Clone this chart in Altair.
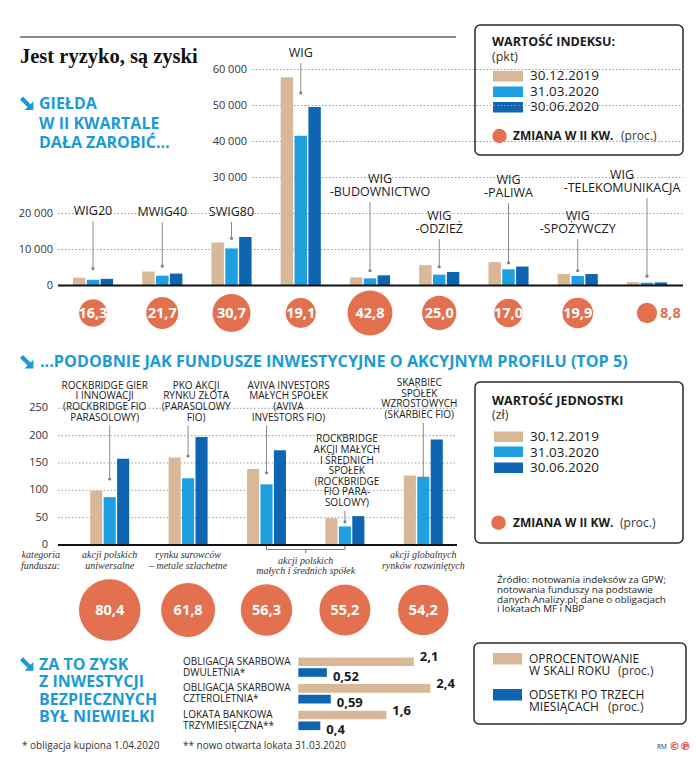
import altair as alt
import pandas as pd

# ------------------------------------------------------------------ data
dates = ["30.12.2019", "31.03.2020", "30.06.2020"]

idx_names = ["WIG20", "MWIG40", "SWIG80", "WIG", "WIG-BUDOWNICTWO", "WIG-ODZIEŻ",
             "WIG-PALIWA", "WIG-SPOŻYWCZY", "WIG-TELEKOMUNIKACJA"]
idx_labels = ["WIG20", "MWIG40", "SWIG80", "WIG", "WIG\n-BUDOWNICTWO", "WIG\n-ODZIEŻ",
              "WIG\n-PALIWA", "WIG\n-SPOŻYWCZY", "WIG\n-TELEKOMUNIKACJA"]
idx_2019 = [2150, 3880, 11950, 57833, 2250, 5650, 6500, 3200, 950]
idx_q1 = [1595, 2720, 10300, 41624, 1980, 3000, 4500, 2650, 780]
idx_q2 = [1855, 3310, 13470, 49593, 2830, 3750, 5265, 3180, 850]
idx_change = [16.3, 21.7, 30.7, 19.1, 42.8, 25.0, 17.0, 19.9, 8.8]
idx_ticks = [0, 10000, 20000, 30000, 40000, 50000, 60000]
# annotation anchors (index points): bottom of label text / pointer dot
idx_label_level = [18700, 18400, 18500, 62600, 24000, 13700, 23700, 13700, 25100]
idx_pointer_level = [4700, 5400, 13100, 53500, 4100, 5200, 6300, 4100, 2600]
idx_label_shift = [0, 0, 0, 0, 10, 0, 0, 0, -25]

fund_names = ["Rockbridge Gier i Innowacji", "PKO Akcji Rynku Złota",
              "Aviva Investors Małych Spółek", "Rockbridge Akcji Małych i Średnich Spółek",
              "Skarbiec Spółek Wzrostowych"]
fund_labels = ["ROCKBRIDGE GIER\nI INNOWACJI\n(ROCKBRIDGE FIO\nPARASOLOWY)",
               "PKO AKCJI\nRYNKU ZŁOTA\n(PARASOLOWY\nFIO)",
               "AVIVA INVESTORS\nMAŁYCH SPÓŁEK\n(AVIVA\nINVESTORS FIO)",
               "ROCKBRIDGE\nAKCJI MAŁYCH\nI ŚREDNICH\nSPÓŁEK\n(ROCKBRIDGE\nFIO PARA-\nSOLOWY)",
               "SKARBIEC\nSPÓŁEK\nWZROSTOWYCH\n(SKARBIEC FIO)"]
fund_2019 = [99.5, 160, 139, 49, 127]
fund_q1 = [87.5, 122, 111, 34, 125]
fund_q2 = [157.8, 197.4, 173.5, 52.8, 192.8]
fund_change = [80.4, 61.8, 56.3, 55.2, 54.2]
fund_category = ["akcji polskich\nuniwersalne", "rynku surowców\n– metale szlachetne",
                 "akcji polskich\nmałych i średnich spółek", "akcji polskich\nmałych i średnich spółek",
                 "akcji globalnych\nrynków rozwiniętych"]
fund_ticks = [0, 50, 100, 150, 200, 250]
fund_label_level = [224, 224, 224, 67.7, 228.6]
fund_pointer_level = [120.7, 162.8, 132, 42.6, 122.6]
fund_label_shift = [-5, 8, 22, 2, -4]

bond_names = ["OBLIGACJA SKARBOWA\nDWULETNIA*", "OBLIGACJA SKARBOWA\nCZTEROLETNIA*",
              "LOKATA BANKOWA\nTRZYMIESIĘCZNA**"]
bond_series = ["OPROCENTOWANIE W SKALI ROKU", "ODSETKI PO TRZECH MIESIĄCACH"]
bond_annual = [2.1, 2.4, 1.6]
bond_3m = [0.52, 0.59, 0.4]

# ------------------------------------------------------------------ style
SANS = "Open Sans"
SERIF = "Liberation Serif"
TAN, LIGHT, DARK = "#d9b897", "#1d9fe0", "#0e66b2"
CORAL = "#e3714f"
HEAD = "#1b9ad8"
INK = "#1a1a1a"
GRID = "#9c9c9c"
ARROW = "M-1,-0.55L-0.55,-1L0.575,0.125L1,-0.3L1,1L-0.3,1L0.125,0.575Z"


def pl(v, nd=None):
    s = f"{v:.{nd}f}" if nd is not None else str(v)
    return s.replace(".", ",")


def thousands(v):
    return f"{v:,}".replace(",", " ")


def text(lines, x, y, dy=12, **kw):
    """Single text item; several lines are joined with line breaks (first line centred on y)."""
    if isinstance(lines, str):
        lines = [lines]
    d = pd.DataFrame({"t": ["\n".join(lines)]})
    st = dict(align="left", baseline="middle", font=SANS, fontSize=12, color=INK,
              lineBreak="\n", lineHeight=dy)
    st.update(kw)
    return alt.Chart(d).mark_text(**st).encode(
        x=alt.value(x), y=alt.value(y), text="t:N")


def box(x, x2, y, y2, **kw):
    st = dict(fill="white", stroke="#2a2a2a", strokeWidth=1.5, cornerRadius=5)
    st.update(kw)
    return alt.Chart(pd.DataFrame({"a": [0]})).mark_rect(**st).encode(
        x=alt.value(x), x2=alt.value(x2), y=alt.value(y), y2=alt.value(y2))


def swatch(x, x2, y, y2, color):
    return alt.Chart(pd.DataFrame({"a": [0]})).mark_rect(color=color).encode(
        x=alt.value(x), x2=alt.value(x2), y=alt.value(y), y2=alt.value(y2))


def hline(x, x2, y, **kw):
    st = dict(color="#8c8c8c", strokeWidth=2)
    st.update(kw)
    return alt.Chart(pd.DataFrame({"a": [0]})).mark_rule(**st).encode(
        x=alt.value(x), x2=alt.value(x2), y=alt.value(y))


def arrow(x, y):
    return alt.Chart(pd.DataFrame({"a": [0]})).mark_point(
        shape=ARROW, filled=True, color=HEAD, opacity=1, size=180, strokeWidth=0
    ).encode(x=alt.value(x), y=alt.value(y))


def dot(x, y, size=210):
    return alt.Chart(pd.DataFrame({"a": [0]})).mark_circle(
        color=CORAL, opacity=1, size=size).encode(x=alt.value(x), y=alt.value(y))


def label_layers(info, xenc, yscale, lh, size):
    """Multi-line labels whose last line sits on lab_lvl (one layer per line count / shift)."""
    out = []
    for n, s in sorted(set(zip(info["n"], info["shift"]))):
        out.append(
            alt.Chart(info).transform_filter(f"datum.n == {n} && datum.shift == {s}").mark_text(
                align="center", baseline="bottom", lineBreak="\n", lineHeight=lh,
                font=SANS, fontSize=size, color=INK, dx=s, dy=-(n - 1) * lh).encode(
                x=xenc, y=alt.Y("lab_lvl:Q", scale=yscale, axis=None), text="label:N"))
    return out


SIZE = alt.Scale(domain=[0, 100], range=[0, 4712], zero=True)
COL = alt.Scale(domain=dates, range=[TAN, LIGHT, DARK])
OFF = alt.Scale(domain=dates, paddingInner=0.1, paddingOuter=0)

layers = []

# ================================================================== section 1
X1 = alt.Scale(domain=idx_names, range=[58.4, 681.6], paddingInner=0.42, paddingOuter=0.21)
Y1 = alt.Scale(domain=[0, 60000], range=[285.5, 69.5], nice=False, zero=False)

idx_long = pd.DataFrame([
    {"name": n, "date": d, "value": v}
    for i, n in enumerate(idx_names)
    for d, v in zip(dates, (idx_2019[i], idx_q1[i], idx_q2[i]))
])
idx_info = pd.DataFrame({
    "name": idx_names, "label": idx_labels, "change": idx_change,
    "txt": [pl(c, 1) for c in idx_change],
    "lab_lvl": idx_label_level, "ptr_lvl": idx_pointer_level,
    "n": [lab.count("\n") + 1 for lab in idx_labels], "shift": idx_label_shift,
})
t1 = pd.DataFrame({"v": idx_ticks, "lab": [thousands(v) for v in idx_ticks]})

xi = alt.X("name:N", scale=X1, axis=None, sort=idx_names)

layers += [
    hline(20, 456, 37),
    text("Jest ryzyko, są zyski", 20, 63, font=SERIF, fontSize=20.5, fontWeight="bold",
         baseline="alphabetic", color="#111111"),
    arrow(26.7, 103.3),
    text(["GIEŁDA", "W II KWARTALE", "DAŁA ZAROBIĆ…"], 39, 104, 19.5,
         fontSize=16, fontWeight="bold", color=HEAD),
    # legend 1
    box(475, 683, 25, 155),
    text(["WARTOŚĆ INDEKSU:"], 492, 42, fontSize=12.5, fontWeight="bold"),
    text("(pkt)", 492, 56.5, fontSize=12.5, color="#333333"),
    swatch(493, 523, 71, 81.5, TAN),
    swatch(493, 523, 86.5, 97, LIGHT),
    swatch(493, 523, 102, 112.5, DARK),
    text(dates, 530, 76, 15.5, fontSize=13.5),
    dot(499.5, 136),
    text("ZMIANA W II KW.", 513, 136, fontSize=12, fontWeight="bold"),
    text("(proc.)", 621, 136, fontSize=12, color="#333333"),
    # grid + ticks
    alt.Chart(t1).transform_filter("datum.v > 0 && datum.v <= 20000").mark_rule(
        color=GRID, strokeDash=[1.5, 2], strokeWidth=1).encode(
        x=alt.value(58), x2=alt.value(683), y=alt.Y("v:Q", scale=Y1, axis=None)),
    alt.Chart(t1).transform_filter("datum.v > 20000").mark_rule(
        color=GRID, strokeDash=[1.5, 2], strokeWidth=1).encode(
        x=alt.value(252), x2=alt.value(683), y=alt.Y("v:Q", scale=Y1, axis=None)),
    alt.Chart(t1).transform_filter("datum.v <= 20000").mark_text(
        align="right", baseline="middle", font=SANS, fontSize=11, color="#333333").encode(
        x=alt.value(53), y=alt.Y("v:Q", scale=Y1, axis=None), text="lab:N"),
    alt.Chart(t1).transform_filter("datum.v > 20000").mark_text(
        align="right", baseline="middle", font=SANS, fontSize=11, color="#333333").encode(
        x=alt.value(247), y=alt.Y("v:Q", scale=Y1, axis=None), text="lab:N"),
    # pointers
    alt.Chart(idx_info).mark_rule(color="#8a8a8a", strokeWidth=1, yOffset=3).encode(
        x=xi, y=alt.Y("lab_lvl:Q", scale=Y1, axis=None), y2="ptr_lvl:Q"),
]
layers += label_layers(idx_info, xi, Y1, 13.5, 12.5)
layers += [
    # bars
    alt.Chart(idx_long).mark_bar().encode(
        x=xi,
        xOffset=alt.XOffset("date:N", scale=OFF, sort=dates),
        y=alt.Y("value:Q", scale=Y1, axis=None),
        color=alt.Color("date:N", scale=COL, legend=None),
    ),
    alt.Chart(idx_info).mark_point(filled=True, size=10, color="#808080", opacity=1).encode(
        x=xi, y=alt.Y("ptr_lvl:Q", scale=Y1, axis=None)),
    alt.Chart(t1).transform_filter("datum.v == 0").mark_rule(
        color="#111111", strokeWidth=2).encode(
        x=alt.value(58), x2=alt.value(683), y=alt.Y("v:Q", scale=Y1, axis=None)),
    # change bubbles
    alt.Chart(idx_info).mark_circle(color=CORAL, opacity=1).encode(
        x=xi, y=alt.value(313), size=alt.Size("change:Q", scale=SIZE, legend=None)),
    alt.Chart(idx_info).transform_filter("datum.change >= 10").mark_text(
        align="center", baseline="middle", font=SANS, fontSize=14.5, fontWeight="bold",
        color="white").encode(x=xi, y=alt.value(314), text="txt:N"),
    alt.Chart(idx_info).transform_filter("datum.change < 10").mark_text(
        align="left", baseline="middle", font=SANS, fontSize=14.5, fontWeight="bold",
        color=CORAL, dx=13).encode(x=xi, y=alt.value(314), text="txt:N"),
]

# ================================================================== section 2
X2 = alt.Scale(domain=fund_names, range=[70.5, 462.5], paddingInner=0.503, paddingOuter=0.2515)
Y2 = alt.Scale(domain=[0, 250], range=[545, 408.3], nice=False, zero=False)
xf = alt.X("name:N", scale=X2, axis=None, sort=fund_names)

fund_long = pd.DataFrame([
    {"name": n, "date": d, "value": v}
    for i, n in enumerate(fund_names)
    for d, v in zip(dates, (fund_2019[i], fund_q1[i], fund_q2[i]))
])
fund_info = pd.DataFrame({
    "i": list(range(len(fund_names))), "name": fund_names, "label": fund_labels,
    "cat": fund_category, "change": fund_change,
    "txt": [pl(c, 1) for c in fund_change],
    "lab_lvl": fund_label_level, "ptr_lvl": fund_pointer_level,
    "n": [lab.count("\n") + 1 for lab in fund_labels], "shift": fund_label_shift,
})
t2 = pd.DataFrame({"v": fund_ticks, "lab": [str(v) for v in fund_ticks]})
bracket = pd.DataFrame({"a": [fund_names[2]], "b": [fund_names[3]]})

layers += [
    arrow(26.7, 361.7),
    text("...PODOBNIE JAK FUNDUSZE INWESTYCYJNE O AKCYJNYM PROFILU (TOP 5)", 40, 362,
         fontSize=16.2, fontWeight="bold", color=HEAD),
    # legend 2
    box(475, 683, 382, 543),
    text("WARTOŚĆ JEDNOSTKI", 492, 401, fontSize=12.5, fontWeight="bold"),
    text("(zł)", 492, 415, fontSize=12.5, color="#333333"),
    swatch(494, 523, 431.5, 442, TAN),
    swatch(494, 523, 446.5, 457, LIGHT),
    swatch(494, 523, 462.5, 473, DARK),
    text(dates, 530, 437, 15.5, fontSize=13.5),
    dot(498.5, 522.7),
    text("ZMIANA W II KW.", 513, 522.7, fontSize=12, fontWeight="bold"),
    text("(proc.)", 620, 522.7, fontSize=12, color="#333333"),
    # grid + ticks
    alt.Chart(t2).transform_filter("datum.v > 0").mark_rule(
        color=GRID, strokeDash=[1.5, 2], strokeWidth=1).encode(
        x=alt.value(58), x2=alt.value(456), y=alt.Y("v:Q", scale=Y2, axis=None)),
    alt.Chart(t2).mark_text(align="right", baseline="middle", font=SANS, fontSize=11,
                            color="#333333").encode(
        x=alt.value(48), y=alt.Y("v:Q", scale=Y2, axis=None), text="lab:N"),
    # pointers
    alt.Chart(fund_info).mark_rule(color="#8a8a8a", strokeWidth=1, yOffset=3).encode(
        x=xf, y=alt.Y("lab_lvl:Q", scale=Y2, axis=None), y2="ptr_lvl:Q"),
]
layers += label_layers(fund_info, xf, Y2, 10.6, 10)
layers += [
    # bars
    alt.Chart(fund_long).mark_bar().encode(
        x=xf,
        xOffset=alt.XOffset("date:N", scale=OFF, sort=dates),
        y=alt.Y("value:Q", scale=Y2, axis=None),
        color=alt.Color("date:N", scale=COL, legend=None),
    ),
    alt.Chart(fund_info).mark_point(filled=True, size=10, color="#808080", opacity=1).encode(
        x=xf, y=alt.Y("ptr_lvl:Q", scale=Y2, axis=None)),
    alt.Chart(t2).transform_filter("datum.v == 0").mark_rule(
        color="#111111", strokeWidth=2).encode(
        x=alt.value(58), x2=alt.value(457), y=alt.Y("v:Q", scale=Y2, axis=None)),
    # category of fund
    text(["kategoria", "funduszu:"], 60, 555, 10.7, align="right", font=SERIF,
         fontStyle="italic", fontSize=10, color="#333333"),
    alt.Chart(fund_info).transform_filter("datum.i != 2 && datum.i != 3").mark_text(
        align="center", baseline="middle", lineBreak="\n", lineHeight=10.7,
        font=SERIF, fontStyle="italic", fontSize=10, color="#333333").encode(
        x=xf, y=alt.value(555), text="cat:N"),
    alt.Chart(fund_info).transform_filter("datum.i == 2").mark_text(
        align="center", baseline="middle", lineBreak="\n", lineHeight=10.7,
        font=SERIF, fontStyle="italic", fontSize=10, color="#333333", dx=39.2).encode(
        x=xf, y=alt.value(560.5), text="cat:N"),
    alt.Chart(bracket).mark_rule(color="#777777", strokeWidth=1).encode(
        x=alt.X("a:N", scale=X2, axis=None, sort=fund_names), x2="b:N", y=alt.value(549.5)),
    alt.Chart(fund_info).transform_filter("datum.i == 2 || datum.i == 3").mark_rule(
        color="#777777", strokeWidth=1).encode(x=xf, y=alt.value(546), y2=alt.value(549.5)),
    alt.Chart(fund_info).transform_filter("datum.i == 2").mark_rule(
        color="#777777", strokeWidth=1, xOffset=39.2).encode(
        x=xf, y=alt.value(549.5), y2=alt.value(553)),
    # bubbles
    alt.Chart(fund_info).mark_circle(color=CORAL, opacity=1).encode(
        x=xf, y=alt.value(610), size=alt.Size("change:Q", scale=SIZE, legend=None)),
    alt.Chart(fund_info).mark_text(
        align="center", baseline="middle", font=SANS, fontSize=14.5, fontWeight="bold",
        color="white").encode(x=xf, y=alt.value(611), text="txt:N"),
    # source
    text(["Źródło: notowania indeksów za GPW;", "notowania funduszy na podstawie",
          "danych Analizy.pl; dane o obligacjach", "i lokatach MF i NBP"],
         497, 580, 9.8, fontSize=9.8, color="#222222"),
]

# ================================================================== section 3
X3 = alt.Scale(domain=[0, 3], range=[298.3, 463.3], nice=False, zero=True)
Y3 = alt.Scale(domain=bond_names, range=[653.8, 733.7], paddingInner=0.27, paddingOuter=0.135)
YO3 = alt.Scale(domain=bond_series, paddingInner=0.2, paddingOuter=0)
yb = alt.Y("name:N", scale=Y3, axis=None, sort=bond_names)

bond_long = pd.DataFrame([
    {"name": n, "series": s, "value": v, "txt": pl(v)}
    for i, n in enumerate(bond_names)
    for s, v in zip(bond_series, (bond_annual[i], bond_3m[i]))
])

layers += [
    arrow(26.7, 664),
    text(["ZA TO ZYSK", "Z INWESTYCJI", "BEZPIECZNYCH", "BYŁ NIEWIELKI"], 39, 665, 17.3,
         fontSize=16, fontWeight="bold", color=HEAD),
    # legend 3
    box(474, 686, 643, 724),
    swatch(493, 522, 653, 664.5, TAN),
    swatch(493, 522, 689, 700.5, DARK),
    text(["OPROCENTOWANIE", "W SKALI ROKU"], 529, 659, 11.5, fontSize=12),
    text("(proc.)", 618, 670.5, fontSize=12, color="#333333"),
    text(["ODSETKI PO TRZECH", "MIESIĄCACH"], 529, 695, 11.7, fontSize=12),
    text("(proc.)", 608, 706.7, fontSize=12, color="#333333"),
    # bars
    alt.Chart(bond_long).mark_bar().encode(
        y=yb,
        yOffset=alt.YOffset("series:N", scale=YO3, sort=bond_series),
        x=alt.X("value:Q", scale=X3, axis=None),
        color=alt.Color("series:N", scale=alt.Scale(domain=bond_series, range=[TAN, DARK]),
                        legend=None),
    ),
    alt.Chart(bond_long).mark_text(
        align="left", baseline="middle", dx=6, font=SANS, fontSize=13, fontWeight="bold",
        color=INK).encode(
        y=yb,
        yOffset=alt.YOffset("series:N", scale=YO3, sort=bond_series),
        x=alt.X("value:Q", scale=X3, axis=None),
        text="txt:N"),
    alt.Chart(pd.DataFrame({"name": bond_names})).mark_text(
        align="left", baseline="middle", lineBreak="\n", lineHeight=10.8, dy=-5.4,
        font=SANS, fontSize=10, color="#222222").encode(
        x=alt.value(183), y=yb, text="name:N"),
    # footnotes
    text("* obligacja kupiona 1.04.2020", 22, 746, fontSize=10, color="#333333"),
    text("** nowo otwarta lokata 31.03.2020", 183, 746, fontSize=10, color="#333333"),
    text("RM", 657, 747, fontSize=6.5, color="#333333"),
    text("©℗", 669, 747, fontSize=11, fontWeight="bold", color="#e2463c",
         font="DejaVu Sans"),
]

chart = alt.layer(*layers).properties(
    width=696, height=760, padding=0, autosize=alt.AutoSizeParams(type="none")
).resolve_scale(
    x="independent", y="independent", color="independent", size="independent",
    xOffset="independent", yOffset="independent"
).configure(background="white").configure_view(stroke=None)

chart.save("out.html", embed_options={"renderer": "svg", "actions": False})
